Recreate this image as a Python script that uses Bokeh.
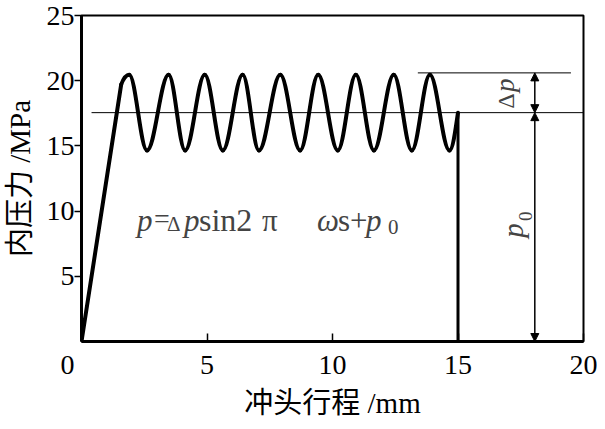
from math import pi
from bokeh.plotting import figure
from bokeh.models import Range1d, FixedTicker, Label, Arrow, NormalHead, ColumnDataSource
from bokeh.embed import file_html
from bokeh.resources import INLINE

# ---- data ----
ramp_x = [0.0, 1.58]
ramp_y = [0.0, 19.7]
crest_x = [1.90, 3.47, 4.91, 6.42, 7.92, 9.43, 10.93, 12.44, 13.88]
crest_y = [20.45, 20.45, 20.45, 20.45, 20.45, 20.45, 20.45, 20.45, 20.45]
trough_x = [2.61, 4.13, 5.63, 7.07, 8.71, 10.21, 11.65, 13.16, 14.66]
trough_y = [14.65, 14.65, 14.65, 14.65, 14.65, 14.65, 14.65, 14.65, 14.65]
end_x = [15.0]
end_y = [17.55]
drop_x = [15.0, 15.0]
drop_y = [17.55, 0.0]
p0_level = 17.55
top_level = 20.6
mid_line_x = [0.4, 20.0]
top_line_x = [13.4, 19.5]
arrow_x = 18.06
x_ticks = [0, 5, 10, 15, 20]
x_tick_labels = {0: "0\u00a0\u00a0\u00a0\u00a0"}
y_ticks = [5, 10, 15, 20, 25]

SERIF = "Liberation Serif"
MIXED = "Liberation Serif, Noto Sans CJK SC"

p = figure(width=597, height=421, output_backend="svg", toolbar_location=None,
           x_range=Range1d(0, 20), y_range=Range1d(0, 25),
           min_border_left=74, min_border_right=14, min_border_top=15, min_border_bottom=71)
p.grid.visible = False
p.outline_line_color = "black"
p.outline_line_width = 2
p.background_fill_color = "white"
p.border_fill_color = "white"

# axes
p.xaxis.ticker = FixedTicker(ticks=x_ticks)
p.xaxis.major_label_overrides = x_tick_labels
p.yaxis.ticker = FixedTicker(ticks=y_ticks)
for ax in (p.xaxis, p.yaxis):
    ax.axis_line_width = 3
    ax.major_tick_line_width = 1.5
    ax.minor_tick_line_color = None
    ax.major_label_text_font = SERIF
    ax.major_label_text_font_size = "28px"
    ax.major_label_text_color = "black"
    ax.axis_label_text_font = MIXED
    ax.axis_label_text_font_size = "29px"
    ax.axis_label_text_font_style = "normal"
    ax.axis_label_text_color = "black"
p.xaxis.major_tick_in = 8
p.xaxis.major_tick_out = 0
p.xaxis.major_label_standoff = 7
p.xaxis.axis_label = "冲头行程 /mm"
p.xaxis.axis_label_standoff = 4
p.yaxis.major_tick_in = 0
p.yaxis.major_tick_out = 7
p.yaxis.major_label_standoff = 0
p.yaxis.axis_label = "内压力 /MPa"
p.yaxis.axis_label_standoff = 8

# thin reference lines
p.line(mid_line_x, [p0_level, p0_level], line_color="black", line_width=1)
p.line(top_line_x, [top_level, top_level], line_color="black", line_width=1)

# curve: ramp, then smooth half waves through the read crests / troughs
LW = 4
p.line(ramp_x, ramp_y, line_color="black", line_width=LW, line_cap="round")
a = 1 - 2 / pi
bx0, by0, bx1, by1, bcx0, bcy0, bcx1, bcy1 = [], [], [], [], [], [], [], []
# ramp end -> first crest
bx0.append(ramp_x[-1]); by0.append(ramp_y[-1]); bx1.append(crest_x[0]); by1.append(crest_y[0])
dxr = crest_x[0] - ramp_x[-1]
slope = ramp_y[-1] / ramp_x[-1]
bcx0.append(ramp_x[-1] + 0.15 * dxr); bcy0.append(ramp_y[-1] + 0.15 * dxr * slope * 0.4)
bcx1.append(crest_x[0] - 0.45 * dxr); bcy1.append(crest_y[0])
pts = []
for cx, cy, tx, ty in zip(crest_x, crest_y, trough_x, trough_y):
    pts.append((cx, cy)); pts.append((tx, ty))
for (x0, y0), (x1, y1) in zip(pts[:-1], pts[1:]):
    d = x1 - x0
    bx0.append(x0); by0.append(y0); bx1.append(x1); by1.append(y1)
    bcx0.append(x0 + a * d); bcy0.append(y0)
    bcx1.append(x1 - a * d); bcy1.append(y1)
# last trough -> end at mean level (quarter wave)
xt, yt = pts[-1]
d = end_x[0] - xt
bx0.append(xt); by0.append(yt); bx1.append(end_x[0]); by1.append(end_y[0])
bcx0.append(xt + 0.3634 * d); bcy0.append(yt)
bcx1.append(xt + 0.6657 * d); bcy1.append(yt + 0.4749 * (end_y[0] - yt))
src = ColumnDataSource(dict(x0=bx0, y0=by0, x1=bx1, y1=by1, cx0=bcx0, cy0=bcy0, cx1=bcx1, cy1=bcy1))
p.bezier(x0="x0", y0="y0", x1="x1", y1="y1", cx0="cx0", cy0="cy0", cx1="cx1", cy1="cy1",
         source=src, line_color="black", line_width=LW, line_cap="round")
p.line(drop_x, drop_y, line_color="black", line_width=3)

# dimension arrows
for ys, ye in ((p0_level, top_level), (0.0, p0_level)):
    p.add_layout(Arrow(x_start=arrow_x, y_start=ys, x_end=arrow_x, y_end=ye,
                       line_color="black", line_width=1.5,
                       start=NormalHead(size=8, fill_color="black", line_color="black"),
                       end=NormalHead(size=8, fill_color="black", line_color="black")))

# rotated labels
p.add_layout(Label(x=16.93, y=18.45, text="Δ", angle=pi / 2, text_align="center", text_baseline="middle",
                   text_font=SERIF, text_font_size="24px"))
p.add_layout(Label(x=16.88, y=19.65, text="p", angle=pi / 2, text_align="center", text_baseline="middle",
                   text_font=SERIF, text_font_style="italic", text_font_size="27px"))
p.add_layout(Label(x=17.21, y=8.51, text="p", angle=pi / 2, text_align="center", text_baseline="middle",
                   text_font=SERIF, text_font_style="italic", text_font_size="29px"))
p.add_layout(Label(x=17.70, y=9.61, text="0", angle=pi / 2, text_align="center", text_baseline="middle",
                   text_font=SERIF, text_font_size="19px"))

# formula
fx, fy = 2.21, 9.31
pieces = [("p", 0, 0, "italic", "31px"), ("=", 17, 2, "normal", "28px"), ("Δ", 30, -4, "normal", "21px"),
          ("p", 47, 0, "italic", "31px"), ("sin2", 62, 0, "normal", "32px"), ("π", 125, 0, "normal", "31px"),
          ("ω", 180, 0, "italic", "31px"), ("s+", 201, 0, "normal", "31px"), ("p", 229, 0, "italic", "31px"),
          ("0", 251, -7, "normal", "21px")]
for t, xo, yo, st, sz in pieces:
    p.add_layout(Label(x=fx, y=fy, x_offset=xo, y_offset=yo, text=t, text_align="left",
                       text_baseline="alphabetic", text_font=SERIF, text_font_style=st, text_font_size=sz))

open("out.html", "w").write(file_html(p, INLINE))
